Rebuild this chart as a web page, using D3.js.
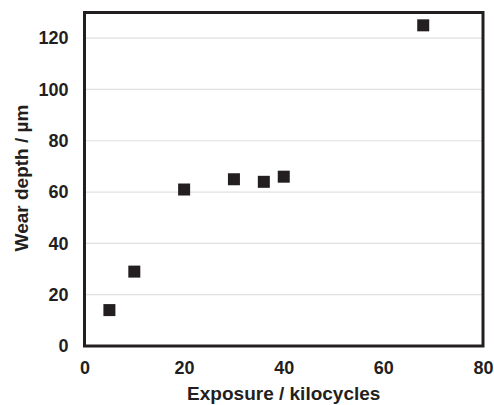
<!DOCTYPE html>
<html>
<head>
<meta charset="utf-8">
<script src="https://cdn.jsdelivr.net/npm/d3@7"></script>
<style>
  html, body { margin: 0; padding: 0; background: #fff; }
  svg { display: block; }
  text { font-family: "Liberation Sans", Arial, sans-serif; font-weight: bold; fill: #231f20; }
</style>
</head>
<body>
<svg id="chart" width="494" height="405"></svg>
<script>
const exposure = [5, 10, 20, 30, 36, 40, 68];
const wearDepth = [14, 29, 61, 65, 64, 66, 125];
const xTicks = [0, 20, 40, 60, 80];
const yTicks = [0, 20, 40, 60, 80, 100, 120];
const xTitle = "Exposure / kilocycles";
const yTitle = "Wear depth / µm";

const svg = d3.select("#chart");
const x = d3.scaleLinear().domain([0, 80]).range([84.5, 483]);
const y = d3.scaleLinear().domain([0, 130]).range([346, 12.5]);
const ink = "#231f20";

// gridlines
svg.append("g").selectAll("line").data(yTicks.filter(d => d > 0)).join("line")
  .attr("x1", x(0)).attr("x2", x(80))
  .attr("y1", d => y(d)).attr("y2", d => y(d))
  .attr("stroke", "#e0e0e0").attr("stroke-width", 1.2);

// axes (labels only)
const xAxis = svg.append("g").attr("transform", `translate(0,${y(0)})`)
  .call(d3.axisBottom(x).tickValues(xTicks).tickSize(0).tickPadding(15));
const yAxis = svg.append("g").attr("transform", `translate(${x(0)},0)`)
  .call(d3.axisLeft(y).tickValues(yTicks).tickSize(0).tickPadding(16));
[xAxis, yAxis].forEach(a => {
  a.select(".domain").remove();
  a.selectAll("text").style("font-size", "18px").attr("fill", ink)
    .style("font-family", '"Liberation Sans", Arial, sans-serif').style("font-weight", "bold");
});

// frame
svg.append("rect")
  .attr("x", x(0)).attr("y", y(130))
  .attr("width", x(80) - x(0)).attr("height", y(0) - y(130))
  .attr("fill", "none").attr("stroke", ink).attr("stroke-width", 3);

// markers
const s = 12;
svg.append("g").selectAll("rect").data(exposure.map((d, i) => [d, wearDepth[i]])).join("rect")
  .attr("x", d => x(d[0]) - s / 2).attr("y", d => y(d[1]) - s / 2)
  .attr("width", s).attr("height", s).attr("fill", ink);

// titles
svg.append("text").attr("x", (x(0) + x(80)) / 2).attr("y", 400)
  .attr("text-anchor", "middle").style("font-size", "19px").text(xTitle);
svg.append("text").attr("transform", `translate(28,178) rotate(-90)`)
  .attr("text-anchor", "middle").style("font-size", "19px").text(yTitle);
</script>
</body>
</html>
